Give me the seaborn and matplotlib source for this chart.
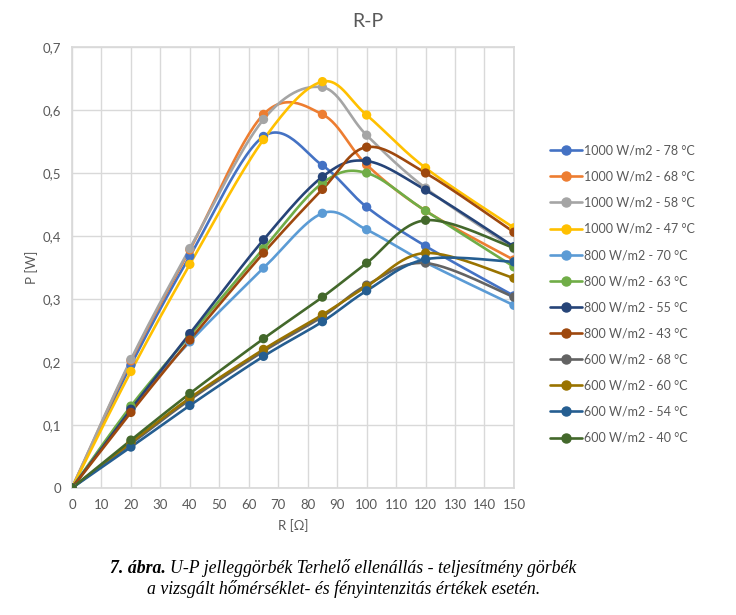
import numpy as np
import pandas as pd
import matplotlib
matplotlib.use("Agg")
import matplotlib.pyplot as plt
from matplotlib.lines import Line2D
import seaborn as sns

# load resistance values [Ohm]
r_values = [0, 20, 40, 65, 85, 100, 120, 150]

series_names = [
    "1000 W/m2 - 78 °C", "1000 W/m2 - 68 °C", "1000 W/m2 - 58 °C", "1000 W/m2 - 47 °C",
    "800 W/m2 - 70 °C", "800 W/m2 - 63 °C", "800 W/m2 - 55 °C", "800 W/m2 - 43 °C",
    "600 W/m2 - 68 °C", "600 W/m2 - 60 °C", "600 W/m2 - 54 °C", "600 W/m2 - 40 °C",
]

# measured power [W]
p_1000_78 = [0, 0.195, 0.368, 0.558, 0.512, 0.446, 0.384, 0.305]
p_1000_68 = [0, 0.202, 0.378, 0.593, 0.593, 0.513, 0.440, 0.362]
p_1000_58 = [0, 0.204, 0.380, 0.585, 0.636, 0.560, 0.476, 0.380]
p_1000_47 = [0, 0.185, 0.355, 0.553, 0.645, 0.592, 0.508, 0.413]
p_800_70 = [0, 0.127, 0.232, 0.349, 0.436, 0.410, 0.358, 0.290]
p_800_63 = [0, 0.130, 0.242, 0.380, 0.484, 0.500, 0.440, 0.351]
p_800_55 = [0, 0.125, 0.245, 0.394, 0.494, 0.519, 0.473, 0.383]
p_800_43 = [0, 0.120, 0.235, 0.373, 0.474, 0.541, 0.500, 0.406]
p_600_68 = [0, 0.070, 0.140, 0.217, 0.272, 0.322, 0.357, 0.303]
p_600_60 = [0, 0.072, 0.143, 0.220, 0.275, 0.320, 0.373, 0.333]
p_600_54 = [0, 0.065, 0.131, 0.209, 0.264, 0.313, 0.363, 0.359]
p_600_40 = [0, 0.076, 0.150, 0.237, 0.303, 0.357, 0.425, 0.381]

power = [p_1000_78, p_1000_68, p_1000_58, p_1000_47,
         p_800_70, p_800_63, p_800_55, p_800_43,
         p_600_68, p_600_60, p_600_54, p_600_40]

colors = ["#4472C4", "#ED7D31", "#A5A5A5", "#FFC000",
          "#5B9BD5", "#70AD47", "#264478", "#9E480E",
          "#636363", "#997300", "#255E91", "#43682B"]


def smooth_curve(x, y, xspan=150.0, yspan=0.7, n=30):
    """Excel-like smoothed line (Catmull-Rom bezier) through the points."""
    px = np.asarray(x, float) / xspan
    py = np.asarray(y, float) / yspan
    pts = np.column_stack([px, py])
    pts = np.vstack([pts[0], pts, pts[-1]])
    out = []
    t = np.linspace(0, 1, n)[:, None]
    for i in range(1, len(pts) - 2):
        p0, p1, p2, p3 = pts[i - 1], pts[i], pts[i + 1], pts[i + 2]
        c1 = p1 + (p2 - p0) / 6
        c2 = p2 - (p3 - p1) / 6
        seg = ((1 - t) ** 3) * p1 + 3 * ((1 - t) ** 2) * t * c1 + 3 * (1 - t) * t ** 2 * c2 + t ** 3 * p2
        out.append(seg if i == 1 else seg[1:])
    out = np.vstack(out)
    return out[:, 0] * xspan, out[:, 1] * yspan


sns.set_theme(style="white")
plt.rcParams['font.family'] = ['Lato', 'DejaVu Sans']

fig = plt.figure(figsize=(7.36, 6.15), dpi=100)
ax = fig.add_axes([0.0978, 0.2065, 0.6005, 0.7171])

frames = []
handles = []
for name, vals, col in zip(series_names, power, colors):
    sx, sy = smooth_curve(r_values, vals)
    ax.plot(sx, sy, color=col, lw=1.9, zorder=2, solid_capstyle="round")
    frames.append(pd.DataFrame({"R": r_values, "P": vals, "series": name}))
    handles.append(Line2D([0], [0], color=col, lw=1.9, marker="o", markersize=6.5))

df = pd.concat(frames, ignore_index=True)
sns.scatterplot(data=df, x="R", y="P", hue="series", palette=colors,
                s=45, edgecolor=None, linewidth=0, legend=False, ax=ax, zorder=3)

ax.set_xlim(0, 150)
ax.set_ylim(0, 0.7)
ax.set_xticks(np.arange(0, 151, 10))
ax.set_yticks(np.arange(0, 0.71, 0.1))
ax.set_yticklabels([f"{v:.1f}".replace(".", ",") if v > 0 else "0" for v in np.arange(0, 0.71, 0.1)])
ax.grid(True, color="#D9D9D9", lw=1)
ax.tick_params(axis="both", length=0, labelsize=9.5, colors="#595959", pad=8)
for s in ax.spines.values():
    s.set_color("#D9D9D9")
ax.set_xlabel("R [Ω]", fontsize=9.5, color="#595959", labelpad=6)
ax.set_ylabel("P [W]", fontsize=9.5, color="#595959", labelpad=3)

fig.text(0.5, 0.965, "R-P", ha="center", va="center", fontsize=14, color="#595959")

ax.legend(handles, series_names, loc="upper left", bbox_to_anchor=(1.07, 0.79),
          frameon=False, fontsize=9, labelcolor="#595959", handlelength=2.6,
          handletextpad=0.15, labelspacing=1.13, borderaxespad=0)

# caption: bold-italic figure number followed by italic text, centred as one line
cap_font = dict(family="Liberation Serif", style="italic", fontsize=12.8, color="black")
renderer = fig.canvas.get_renderer()
t_bold = fig.text(0, 0.076, "7. ábra. ", ha="left", va="center", weight="bold", **cap_font)
t_rest = fig.text(0, 0.076, "U-P jelleggörbék Terhelő ellenállás - teljesítmény görbék",
                  ha="left", va="center", **cap_font)
w_bold = t_bold.get_window_extent(renderer).width / fig.bbox.width
w_rest = t_rest.get_window_extent(renderer).width / fig.bbox.width
x0 = 0.4665 - (w_bold + w_rest) / 2
t_bold.set_x(x0)
t_rest.set_x(x0 + w_bold)
fig.text(0.4665, 0.042, "a vizsgált hőmérséklet- és fényintenzitás értékek esetén.",
         ha="center", va="center", **cap_font)

fig.savefig("out.png", dpi=100, facecolor="white")
